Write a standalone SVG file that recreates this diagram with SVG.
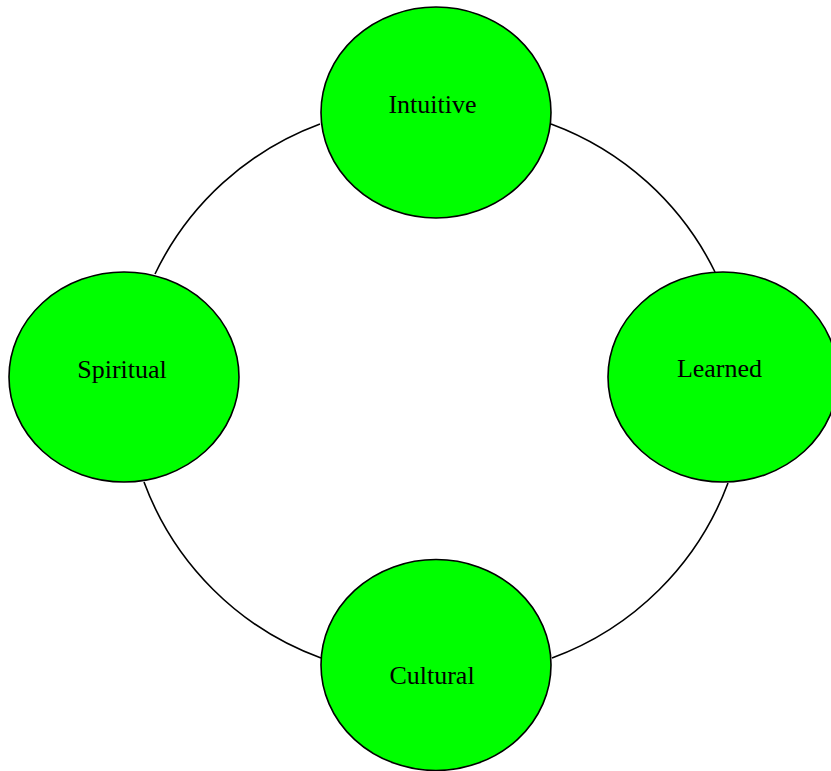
<svg xmlns="http://www.w3.org/2000/svg" width="831" height="771" viewBox="0 0 831 771">
<style>
.node ellipse{fill:#00ff00;stroke:#000;stroke-width:1.6}
.node text{font-family:"Liberation Serif","Times New Roman",serif;font-size:26px;fill:#000;text-anchor:middle}
.edges path{fill:none;stroke:#000;stroke-width:1.6}
</style>
<rect width="831" height="771" fill="#fff"/>
<g id="edges" class="edges">
<path d="M551,124 A297,297 0 0 1 715,272"/>
<path d="M728,483 A297,297 0 0 1 552,658"/>
<path d="M321,658 A297,297 0 0 1 144,482"/>
<path d="M155,274 A297,297 0 0 1 320,124"/>
</g>
<g id="intuitive" class="node"><ellipse cx="436" cy="112.5" rx="115" ry="105.5"/><text x="432.5" y="113">Intuitive</text></g>
<g id="spiritual" class="node"><ellipse cx="124" cy="377" rx="115" ry="105"/><text x="122" y="378">Spiritual</text></g>
<g id="learned" class="node"><ellipse cx="723" cy="377" rx="115" ry="105"/><text x="719.5" y="377">Learned</text></g>
<g id="cultural" class="node"><ellipse cx="436" cy="665" rx="115" ry="105.5"/><text x="432" y="684">Cultural</text></g>
</svg>
